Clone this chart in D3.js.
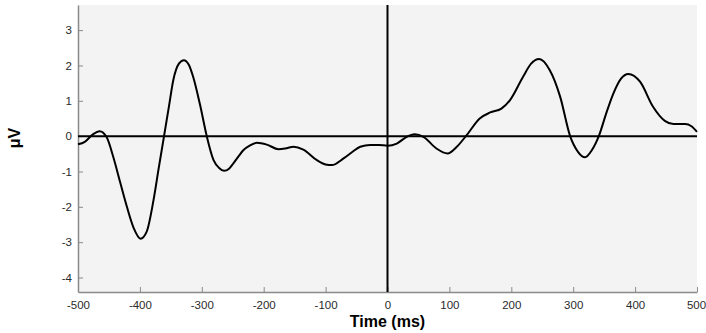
<!DOCTYPE html>
<html><head><meta charset="utf-8">
<script src="https://cdn.jsdelivr.net/npm/d3@7"></script>
<style>body{margin:0;background:#fff}svg{display:block}</style>
</head><body>
<svg id="c" width="706" height="333"></svg>
<script>
const times = [-500,-489,-476,-465,-454,-443,-432,-421,-410,-399,-389,-378,-370,-361,-353,-346,-337,-329,-321,-314,-303,-292,-281,-272,-264,-256,-249,-241,-233,-222,-211,-195,-176,-163,-152,-136,-114,-100,-90,-71,-57,-44,-28,-14,0,15,31,44,58,79,97,112,128,149,166,184,198,219,232,245,262,279,295,308,319,330,342,354,365,377,389,408,429,448,462,481,491,500];
const values = [-0.23,-0.16,0.05,0.14,-0.02,-0.59,-1.30,-2.00,-2.60,-2.90,-2.70,-1.81,-0.95,0.00,0.85,1.59,2.05,2.15,2.02,1.68,0.90,0.00,-0.68,-0.90,-0.98,-0.92,-0.77,-0.58,-0.40,-0.26,-0.19,-0.24,-0.37,-0.34,-0.30,-0.38,-0.68,-0.80,-0.82,-0.63,-0.45,-0.30,-0.25,-0.25,-0.27,-0.21,-0.02,0.05,-0.02,-0.35,-0.49,-0.30,0.03,0.50,0.67,0.78,1.02,1.68,2.05,2.18,1.87,1.11,0.00,-0.45,-0.60,-0.40,0.03,0.68,1.21,1.62,1.76,1.54,0.83,0.43,0.34,0.34,0.28,0.12];
const xTicks = [-500,-400,-300,-200,-100,0,100,200,300,400,500];
const yTicks = [-4,-3,-2,-1,0,1,2,3];
const xLabel = "Time (ms)";
const yLabel = "\u03bcV";

const svg = d3.select("#c");
const L = 78, R = 697, T = 5, B = 292;
const x = d3.scaleLinear().domain([-500,500]).range([L,R]);
const y = d3.scaleLinear().domain([-4.41,3.71]).range([B,T]);

svg.append("rect").attr("x",L).attr("y",T).attr("width",R-L).attr("height",B-T).attr("fill","#f3f3f3");

const font = "Liberation Sans, Arial, sans-serif";
const fmt = d => String(d);
const xAxis = svg.append("g").attr("transform",`translate(0,${B})`)
  .call(d3.axisBottom(x).tickValues(xTicks).tickFormat(fmt).tickSizeInner(-5).tickSizeOuter(0).tickPadding(9));
const yAxis = svg.append("g").attr("transform",`translate(${L},0)`)
  .call(d3.axisLeft(y).tickValues(yTicks).tickFormat(fmt).tickSizeInner(-5).tickSizeOuter(0).tickPadding(6));
[xAxis,yAxis].forEach(a=>{
  a.select(".domain").attr("stroke","#8a8a8a").attr("stroke-width",1.5);
  a.selectAll(".tick line").attr("stroke","#8a8a8a").attr("stroke-width",1);
  a.selectAll(".tick text").attr("fill","#2a2a2a").style("font-family",font).style("font-size","11.5px");
});
xAxis.selectAll(".tick text").filter(d => d === 500).attr("dx", -1);

// zero lines
svg.append("line").attr("x1",L).attr("x2",R).attr("y1",y(0)).attr("y2",y(0)).attr("stroke","#000").attr("stroke-width",2);
svg.append("line").attr("x1",x(0)).attr("x2",x(0)).attr("y1",T).attr("y2",B).attr("stroke","#000").attr("stroke-width",2);

const line = d3.line().x((d,i)=>x(times[i])).y(d=>y(d)).curve(d3.curveMonotoneX);
svg.append("path").attr("d",line(values)).attr("fill","none").attr("stroke","#000").attr("stroke-width",2);

svg.append("text").attr("x",(L+R)/2).attr("y",327).attr("text-anchor","middle")
  .style("font-family",font).style("font-size","16px").style("font-weight","bold").text(xLabel);
svg.append("text").attr("transform",`translate(20,${y(0)+2}) rotate(-90)`).attr("text-anchor","middle")
  .style("font-family",font).style("font-size","16px").style("font-weight","bold").text(yLabel);
</script>
</body></html>
